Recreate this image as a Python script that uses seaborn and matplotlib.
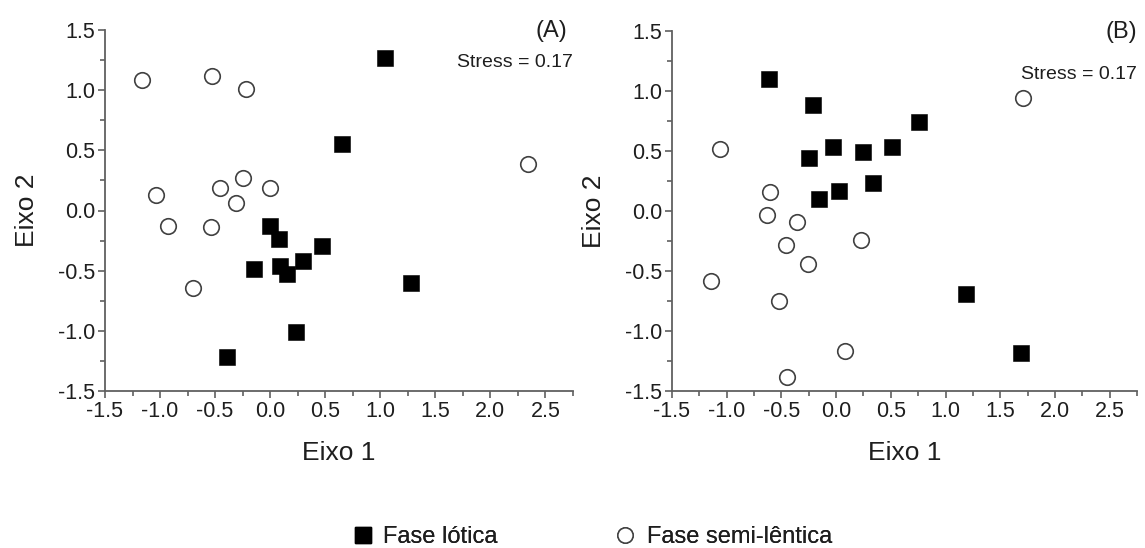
import matplotlib
matplotlib.use("Agg")
import matplotlib.pyplot as plt
from matplotlib.lines import Line2D
from matplotlib.ticker import MultipleLocator
import pandas as pd
import seaborn as sns

# NMDS ordination scores, panel A
a_lotica_x = [1.045, 0.65, 0.0, 0.076, -0.145, 0.085, 0.157, 0.297, 0.47, 1.28, 0.236, -0.394]
a_lotica_y = [1.27, 0.55, -0.13, -0.24, -0.486, -0.46, -0.53, -0.42, -0.295, -0.60, -1.01, -1.22]
a_semi_x = [-1.16, -0.525, -0.22, -1.04, -0.925, -0.54, -0.455, -0.243, -0.312, 0.0, -0.703, 2.34]
a_semi_y = [1.085, 1.12, 1.01, 0.13, -0.126, -0.14, 0.19, 0.27, 0.06, 0.19, -0.64, 0.39]

# NMDS ordination scores, panel B
b_lotica_x = [-0.61, -0.21, -0.25, -0.03, 0.245, -0.158, 0.024, 0.76, 0.51, 0.34, 1.19, 1.69]
b_lotica_y = [1.10, 0.88, 0.44, 0.53, 0.49, 0.096, 0.17, 0.74, 0.53, 0.23, -0.69, -1.18]
b_semi_x = [-1.06, -0.60, -0.63, -0.36, 1.705, -0.46, 0.227, -0.26, -1.14, -0.52, 0.08, -0.45]
b_semi_y = [0.52, 0.16, -0.03, -0.09, 0.94, -0.28, -0.24, -0.44, -0.58, -0.75, -1.17, -1.38]

panel_labels = ["(A)", "(B)"]
stress_values = [0.17, 0.17]
phase_names = ["Fase lótica", "Fase semi-lêntica"]
x_ticks = [-1.5, -1.0, -0.5, 0.0, 0.5, 1.0, 1.5, 2.0, 2.5]
y_ticks = [-1.5, -1.0, -0.5, 0.0, 0.5, 1.0, 1.5]

sns.set_style("white")
plt.rcParams["font.family"] = ["Liberation Sans", "DejaVu Sans"]


def frame(xs_l, ys_l, xs_s, ys_s):
    return pd.DataFrame({
        "x": list(xs_l) + list(xs_s),
        "y": list(ys_l) + list(ys_s),
        "fase": [phase_names[0]] * len(xs_l) + [phase_names[1]] * len(xs_s),
    })


data = [frame(a_lotica_x, a_lotica_y, a_semi_x, a_semi_y),
        frame(b_lotica_x, b_lotica_y, b_semi_x, b_semi_y)]

fig = plt.figure(figsize=(11.45, 5.48), dpi=100)
W, H = 1145, 548
axes_px = [(105, 30, 573, 391), (672, 31, 1137, 391)]
stress_y = [0.911, 0.88]
panel_x = [0.987, 1.0]
spine_col = "#606060"
text_col = "#1e1e1e"
circle_edge = "#404040"

for i, (df, box) in enumerate(zip(data, axes_px)):
    x0, y0, x1, y1 = box
    ax = fig.add_axes([x0 / W, 1 - y1 / H, (x1 - x0) / W, (y1 - y0) / H])
    lot = df[df.fase == phase_names[0]]
    sem = df[df.fase == phase_names[1]]
    sns.scatterplot(data=lot, x="x", y="y", marker="s", s=140, color="black",
                    edgecolor="black", linewidth=0.4, ax=ax, legend=False, zorder=3)
    sns.scatterplot(data=sem, x="x", y="y", marker="o", s=125, facecolor="white",
                    edgecolor=circle_edge, linewidth=1.2, ax=ax, legend=False, zorder=3)
    ax.set_xlim(-1.5, 2.75)
    ax.set_ylim(-1.5, 1.5)
    ax.set_xticks(x_ticks)
    ax.set_yticks(y_ticks)
    ax.set_xticklabels([f"{v:.1f}" for v in x_ticks])
    ax.set_yticklabels([f"{v:.1f}" for v in y_ticks])
    ax.xaxis.set_minor_locator(MultipleLocator(0.25))
    ax.yaxis.set_minor_locator(MultipleLocator(0.25))
    ax.tick_params(which="major", direction="out", length=5, width=1.2,
                   color=spine_col, labelsize=15.5, labelcolor=text_col, pad=2,
                   bottom=True, left=True)
    ax.tick_params(which="minor", direction="out", length=3.5, width=1.2,
                   color=spine_col, bottom=True, left=True)
    for side in ("top", "right"):
        ax.spines[side].set_visible(False)
    for side in ("left", "bottom"):
        ax.spines[side].set_color(spine_col)
        ax.spines[side].set_linewidth(1.3)
    ax.set_xlabel("Eixo 1", fontsize=19, color=text_col, labelpad=14)
    ax.set_ylabel("Eixo 2", fontsize=19, color=text_col, labelpad=14)
    ax.text(panel_x[i], 0.997, panel_labels[i], transform=ax.transAxes, ha="right",
            va="center", fontsize=17, color=text_col)
    ax.text(1.0, stress_y[i], f"Stress = {stress_values[i]:.2f}", transform=ax.transAxes,
            ha="right", va="center", fontsize=14, color=text_col)
    ax.patch.set_alpha(0)

legend_font = 17
entries = [
    (Line2D([], [], marker="s", linestyle="none", markersize=11, color="black",
            markeredgecolor="black", label=phase_names[0]), 355, 0.5),
    (Line2D([], [], marker="o", linestyle="none", markersize=11, markerfacecolor="white",
            markeredgecolor=circle_edge, markeredgewidth=1.1, label=phase_names[1]), 617, 0.58),
]
for handle, left_px, pad in entries:
    leg = fig.legend(handles=[handle], loc="center left",
                     bbox_to_anchor=(left_px / W, 1 - 537 / H), frameon=False,
                     fontsize=legend_font, borderpad=0, borderaxespad=0,
                     handlelength=0.7, handletextpad=pad, labelcolor=text_col)
    fig.add_artist(leg)

fig.savefig("out.png", dpi=100, facecolor="white")
